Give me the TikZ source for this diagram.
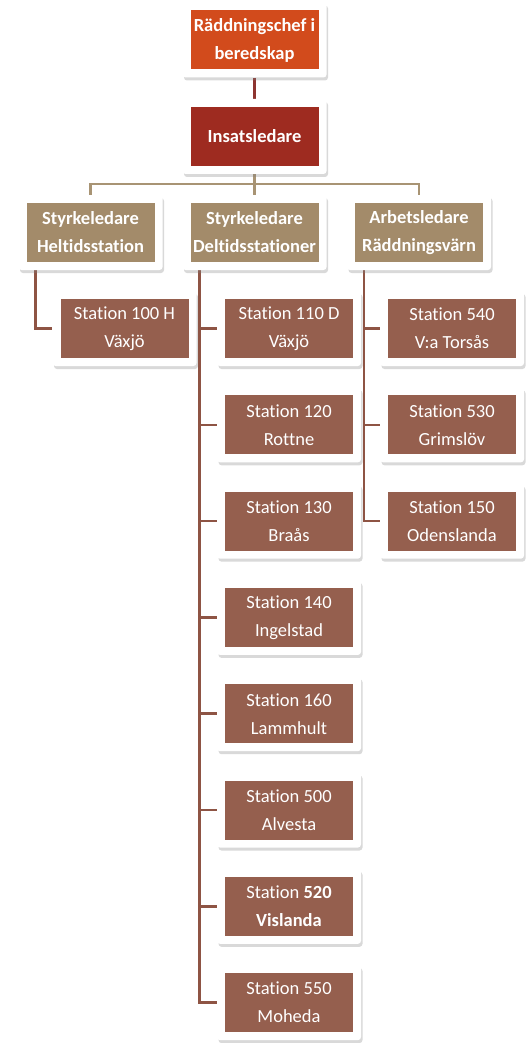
\documentclass[tikz,border=0pt]{standalone}
\usepackage{fontspec}
\setmainfont{Carlito}[Ligatures=NoCommon]
\usetikzlibrary{shadows,backgrounds,calc}

\definecolor{chefcol}{HTML}{D24B1C}
\definecolor{inscol}{HTML}{9E2B20}
\definecolor{tancol}{HTML}{A38B6A}
\definecolor{stncol}{HTML}{955F4E}
\definecolor{topline}{HTML}{8E3530}
\definecolor{barline}{HTML}{A89474}
\definecolor{stnline}{HTML}{8E5444}

\tikzset{
    card/.style={rectangle, fill=white, rounded corners=3pt, inner sep=0pt,
        minimum width=144pt, minimum height=75pt, align=center, text=white,
        font=\fontsize{18.5}{28}\selectfont,
        drop shadow={shadow xshift=1.5pt, shadow yshift=-3pt, opacity=0.3},
        path picture={\fill[#1, sharp corners]
            ([shift={(8pt,-8pt)}]path picture bounding box.north west) rectangle
            ([shift={(-8pt,8pt)}]path picture bounding box.south east);}},
    boss/.style={card=#1, font=\bfseries\fontsize{18.5}{28}\selectfont},
    link/.style={draw=#1, line width=2.5pt}
}

\begin{document}
\begin{tikzpicture}[x=1pt, y=-1pt]
        \useasboundingbox (0,0) rectangle (532,1043);
        % Chiefs
        \node[boss=chefcol] (chef) at (254.5,40) {Räddningschef i\\beredskap};
        \node[boss=inscol] (ins) at (254.5,136.5) {Insatsledare};
        % Second level
        \node[boss=tancol] (heltid) at (90.5,232.5) {Styrkeledare\\Heltidsstation};
        \node[boss=tancol] (deltid) at (254.5,232.5) {Styrkeledare\\Deltidsstationer};
        \node[boss=tancol] (arbete) at (419,232.5) {Arbetsledare\\Räddningsvärn};
        \coordinate (bar) at (254.5,184);
        \begin{scope}[on background layer]
            \draw[link=topline] (chef) -- (ins);
            \draw[link=barline] (ins) -- (bar) -- (deltid);
            \draw[link=barline] (heltid) |- (bar) -| (arbete);
        \end{scope}
        % Full-time station
        \node[card=stncol] (s100) at (124.5,328.5) {Station 100 H\\Växjö};
        \begin{scope}[on background layer]
            \draw[link=stnline] ($(heltid.south west)+(17,0)$) |- (s100.west);
        \end{scope}
        % Part-time stations
        \foreach \nr/\txt [count=\i from 0] in {110/{Station 110 D\\Växjö}, 120/{Station 120\\Rottne},
            130/{Station 130\\Braås}, 140/{Station 140\\Ingelstad}, 160/{Station 160\\Lammhult},
            500/{Station 500\\Alvesta}, 520/{Station \textbf{520}\\\textbf{Vislanda}}, 550/{Station 550\\Moheda}} {
            \node[card=stncol] (s\nr) at (289,328.5+96.3*\i) {\txt};
            \begin{scope}[on background layer]
                \draw[link=stnline] ($(deltid.south west)+(17,0)$) |- (s\nr.west);
            \end{scope}
        }
        % Fire brigade stations
        \foreach \nr/\txt [count=\i from 0] in {540/{Station 540\\V:a Torsås}, 530/{Station 530\\Grimslöv},
            150/{Station 150\\Odenslanda}} {
            \node[card=stncol] (s\nr) at (452,328.5+96.3*\i) {\txt};
            \begin{scope}[on background layer]
                \draw[link=stnline] ($(arbete.south west)+(17,0)$) |- (s\nr.west);
            \end{scope}
        }
\end{tikzpicture}
\end{document}
